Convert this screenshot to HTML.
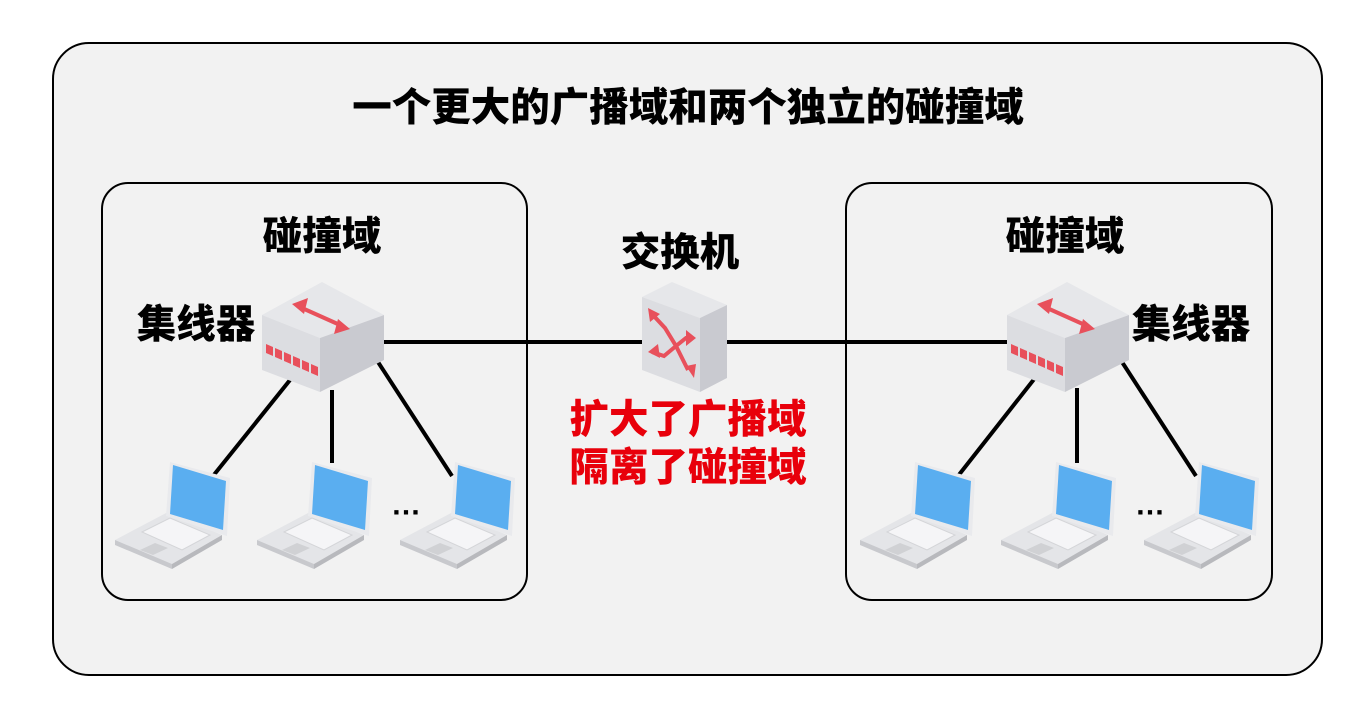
<!DOCTYPE html>
<html><head><meta charset="utf-8"><style>
body{margin:0;background:#fff;}
svg text{font-family:"Liberation Sans","Noto Sans CJK SC",sans-serif;font-weight:900;font-size:39.5px;text-anchor:middle;dominant-baseline:central;}
</style></head><body>
<svg width="1360" height="706" viewBox="0 0 1360 706" xmlns="http://www.w3.org/2000/svg">
<defs>
<g id="hub">
  <polygon points="0,33 60,0 122,33 58,56" fill="#e6e7ea"/>
  <polygon points="0,33 58,56 58,110 0,88" fill="#dcdde1"/>
  <polygon points="58,56 122,33 122,78 58,110" fill="#c9cad0"/>
  <line x1="40" y1="26" x2="78" y2="43" stroke="#e8505b" stroke-width="4"/>
  <polygon points="30,22 46,16 42,32" fill="#e8505b"/>
  <polygon points="88,47 72,52 76,37" fill="#e8505b"/>
  <g fill="#e8505b">
    <polygon points="4,62 11,65 11,74 4,71"/><polygon points="13,66 20,69 20,78 13,75"/>
    <polygon points="22,70 29,73 29,82 22,79"/><polygon points="31,74 38,77 38,86 31,83"/>
    <polygon points="40,78 47,81 47,90 40,87"/><polygon points="49,82 56,85 56,94 49,91"/>
  </g>
</g>
<g id="laptop">
  <polygon points="5,90 58,62 112,85 62,114" fill="#e4e5e8"/>
  <polygon points="5,90 62,114 62,119 5,95" fill="#c8c9cd"/>
  <polygon points="62,114 112,85 112,90 62,119" fill="#b8b9bd"/>
  <polygon points="32,82 60,68 100,85 72,100" fill="#f5f5f7" stroke="#d4d5d8"/>
  <polygon points="30,100 45,93 58,98 43,105" fill="#d0d1d4"/>
  <polygon points="60,12 120,28 117,86 56,66" fill="#e9eaed"/>
  <polygon points="63,15 116,31 113,80 60,64" fill="#5aaef0"/>
</g>
</defs>
<rect x="53" y="43" width="1269" height="632" rx="36" fill="#f2f2f2" stroke="#000" stroke-width="2"/>
<rect x="102" y="183" width="425" height="417" rx="26" fill="#f2f2f2" stroke="#000" stroke-width="2"/>
<rect x="846" y="183" width="426" height="417" rx="26" fill="#f2f2f2" stroke="#000" stroke-width="2"/>
<text x="688" y="108">一个更大的广播域和两个独立的碰撞域</text>
<text x="322" y="237">碰撞域</text>
<text x="1065" y="237">碰撞域</text>
<text x="680" y="253">交换机</text>
<text x="196" y="325">集线器</text>
<text x="1191" y="325">集线器</text>
<text x="688" y="420" fill="#e8000b">扩大了广播域</text>
<text x="688" y="468" fill="#e8000b">隔离了碰撞域</text>
<g stroke="#000" stroke-width="4">
  <line x1="384" y1="342" x2="642" y2="342"/>
  <line x1="727" y1="342" x2="1007" y2="342"/>
  <line x1="290" y1="380" x2="213" y2="476"/>
  <line x1="332" y1="390" x2="332" y2="463"/>
  <line x1="378" y1="362" x2="452" y2="476"/>
  <line x1="1035" y1="378" x2="958" y2="476"/>
  <line x1="1077" y1="388" x2="1077" y2="463"/>
  <line x1="1122" y1="362" x2="1196" y2="476"/>
</g>
<use href="#hub" x="262" y="282"/>
<use href="#hub" x="1007" y="282"/>
<g>
  <polygon points="642,297 672,282 727,305 700,318" fill="#e6e7ea"/>
  <polygon points="642,297 700,318 700,392 642,370" fill="#dcdde1"/>
  <polygon points="700,318 727,305 727,378 700,392" fill="#c9cad0"/>
  <g stroke="#e8505b" stroke-width="4" fill="none">
    <path d="M652,314 L665,328 L676,346 L688,370"/>
    <path d="M652,352 L664,356 L676,346 L686,338 L692,338"/>
  </g>
  <g fill="#e8505b">
    <polygon points="648,308 660,314 650,322"/>
    <polygon points="694,378 686,366 696,364"/>
    <polygon points="648,352 658,344 660,358"/>
    <polygon points="696,338 686,330 686,346"/>
  </g>
</g>
<use href="#laptop" x="110" y="450"/>
<use href="#laptop" x="252" y="450"/>
<use href="#laptop" x="395" y="450"/>
<use href="#laptop" x="855" y="450"/>
<use href="#laptop" x="996" y="450"/>
<use href="#laptop" x="1139" y="450"/>
<text x="406" y="505" style="font-size:30px">…</text>
<text x="1150" y="505" style="font-size:30px">…</text>
</svg>
</body></html>
